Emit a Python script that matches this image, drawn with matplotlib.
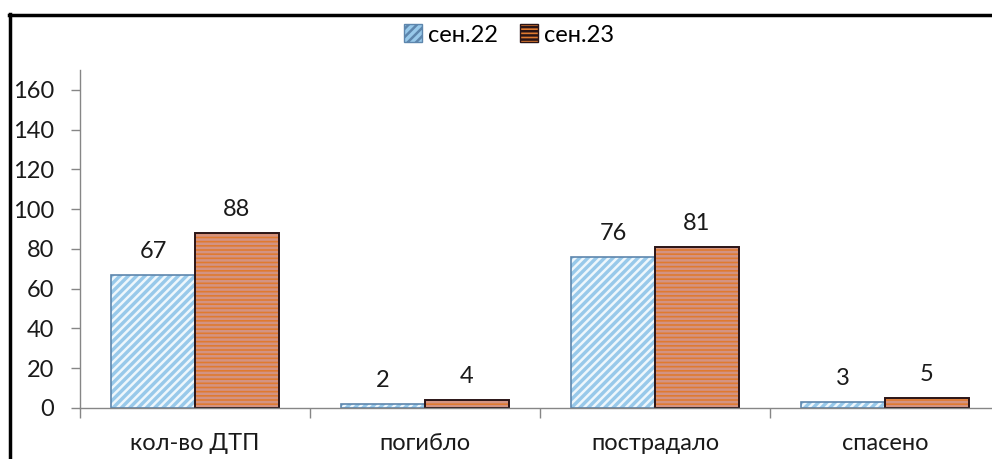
import matplotlib.pyplot as plt
import matplotlib.patches as mpatches
from matplotlib.lines import Line2D
import numpy as np

categories = ["кол-во ДТП", "погибло", "пострадало", "спасено"]
series_names = ["сен.22", "сен.23"]
sep22 = [67, 2, 76, 3]
sep23 = [88, 4, 81, 5]

plt.rcParams['font.family'] = ['Lato', 'DejaVu Sans']
plt.rcParams['hatch.linewidth'] = 1.8
FS = 17
TXT = "#1a1a1a"

fig = plt.figure(figsize=(9.92, 4.59), dpi=100)
ax = fig.add_axes([80/992, 51/459, 920/992, 338/459])

x = np.arange(len(categories))
w = 0.365
off = w/2

# fills with hatch first, then outlines on top
blue_face, blue_hatch, blue_edge = "#98c9ea", "#eef7fc", "#5d86ad"
orng_face, orng_hatch, orng_edge = "#e07a30", "#d39382", "#2a1416"

ax.bar(x - off, sep22, w, color=blue_face, edgecolor=blue_hatch, hatch="////", linewidth=0)
ax.bar(x - off, sep22, w, fill=False, edgecolor=blue_edge, linewidth=1.2)
ax.bar(x + off, sep23, w, color=orng_face, edgecolor=orng_hatch, hatch="----", linewidth=0)
ax.bar(x + off, sep23, w, fill=False, edgecolor=orng_edge, linewidth=1.4)

for xi, v in zip(x - off, sep22):
    ax.annotate(str(v), (xi, v), xytext=(0, 12), textcoords="offset points",
                ha="center", va="baseline", fontsize=FS, color=TXT)
for xi, v in zip(x + off, sep23):
    ax.annotate(str(v), (xi, v), xytext=(0, 12), textcoords="offset points",
                ha="center", va="baseline", fontsize=FS, color=TXT)

ax.set_xlim(-0.5, 3.5)
ax.set_ylim(0, 170)
ax.set_yticks(range(0, 161, 20))
ax.tick_params(axis="y", labelsize=FS, colors="#868686", labelcolor=TXT,
               length=6.5, width=1, pad=12)
ax.set_xticks(x)
ax.set_xticklabels(categories)
ax.set_xticks(np.arange(-0.5, 4, 1), minor=True)
ax.tick_params(axis="x", which="major", length=0, labelsize=FS, labelcolor=TXT, pad=18)
ax.tick_params(axis="x", which="minor", length=7, width=1, colors="#868686")
for s in ["top", "right"]:
    ax.spines[s].set_visible(False)
for s in ["left", "bottom"]:
    ax.spines[s].set_color("#868686")
    ax.spines[s].set_linewidth(1)

handles = [
    mpatches.Patch(facecolor=blue_face, edgecolor=blue_edge, hatch="////", linewidth=1),
    mpatches.Patch(facecolor=orng_face, edgecolor=orng_edge, hatch="----", linewidth=1),
]
leg = fig.legend(handles, series_names, loc="center", bbox_to_anchor=(509/992, 1 - 35/459),
                 ncol=2, frameon=False, fontsize=FS, handlelength=0.8, handleheight=0.8,
                 handletextpad=0.25, columnspacing=0.9)

# outer frame
fig.add_artist(Line2D([10/992, 10/992], [0, 1 - 14/459], color="black", linewidth=2.5,
                      transform=fig.transFigure))
fig.add_artist(Line2D([9/992, 1], [1 - 15/459, 1 - 15/459], color="black", linewidth=2.5,
                      transform=fig.transFigure))

fig.savefig("out.png", dpi=100)
